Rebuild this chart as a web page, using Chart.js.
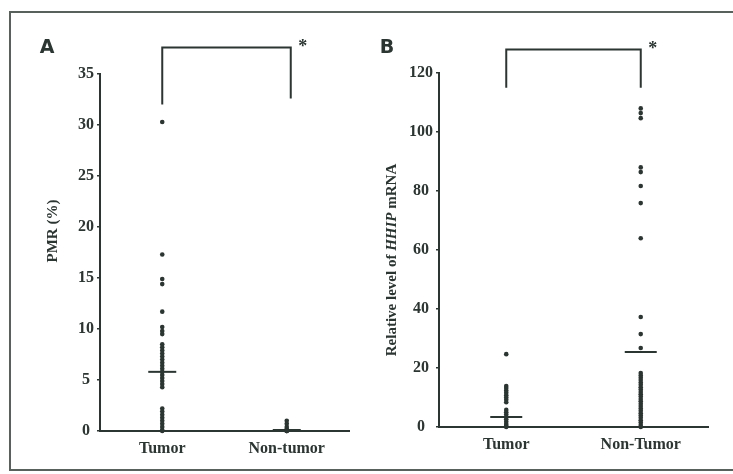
<!DOCTYPE html>
<html><head><meta charset="utf-8">
<script src="https://cdn.jsdelivr.net/npm/chart.js@4.4.1/dist/chart.umd.min.js"></script>
<style>
html,body{margin:0;padding:0;background:#fff;overflow:hidden;width:733px;height:474px}
#frame{position:absolute;left:9px;top:11px;width:724px;height:460px;border:2px solid #59615d;border-right:none;box-sizing:border-box}
#ca{position:absolute;left:0;top:0}
#cb{position:absolute;left:366px;top:0}
</style></head><body>
<div id="frame"></div>
<canvas id="ca" width="366" height="474"></canvas>
<canvas id="cb" width="367" height="474"></canvas>
<script>
// ---- data ----
const categoriesA = ['Tumor', 'Non-tumor'];
const categoriesB = ['Tumor', 'Non-Tumor'];
const pmrTumor = [30.3, 17.3, 14.9, 14.4, 11.7, 10.2, 9.8, 9.5, 8.5, 8.2, 7.9, 7.6, 7.3, 7.0, 6.7, 6.4, 6.1, 5.8, 5.5, 5.2, 4.9, 4.6, 4.3, 2.2, 1.9, 1.6, 1.3, 1.0, 0.7, 0.4, 0.1, 0];
const pmrNonTumor = [1.0, 0.7, 0.4, 0.2, 0.1, 0, 0, 0];
const pmrMeans = [5.8, 0.1];
const hhipTumor = [24.7, 13.9, 13.2, 12.4, 11.6, 10.8, 10.0, 9.2, 8.4, 5.8, 5.0, 4.2, 3.4, 2.6, 1.8, 1.0, 0.4, 0];
const hhipNonTumor = [108, 106.4, 104.7, 88, 86.4, 81.7, 75.9, 64, 37.3, 31.5, 26.8, 18.3, 17.5, 16.7, 15.9, 15.1, 14.3, 13.5, 12.7, 11.9, 11.1, 10.3, 9.5, 8.7, 7.9, 7.1, 6.3, 5.5, 4.7, 3.9, 3.1, 2.3, 1.5, 0.7, 0];
const hhipMeans = [3.4, 25.4];
const ticksA = [0, 5, 10, 15, 20, 25, 30, 35];
const ticksB = [0, 20, 40, 60, 80, 100, 120];

const INK = '#2b3531';
const SERIF = '"Liberation Serif", "DejaVu Serif", serif';

function pts(cat, vals) { return vals.map(v => ({x: cat, y: v})); }

function deco(cfg) {
  return {
    id: 'deco',
    afterDraw(chart) {
      const ctx = chart.ctx, xs = chart.scales.x, ys = chart.scales.y;
      ctx.save();
      ctx.fillStyle = INK;
      ctx.font = 'bold 19px "DejaVu Sans", sans-serif';
      ctx.textAlign = 'center'; ctx.textBaseline = 'middle';
      ctx.fillText(cfg.letter, cfg.letterX, 48);
      const x1 = xs.getPixelForValue(0), x2 = xs.getPixelForValue(1) + cfg.rightShift;
      const yTop = ys.getPixelForValue(cfg.bracketTop);
      ctx.strokeStyle = INK; ctx.lineWidth = 2;
      ctx.beginPath();
      ctx.moveTo(x1, ys.getPixelForValue(cfg.leftLow));
      ctx.lineTo(x1, yTop); ctx.lineTo(x2, yTop);
      ctx.lineTo(x2, ys.getPixelForValue(cfg.rightLow));
      ctx.stroke();
      ctx.font = 'bold 18px ' + SERIF;
      ctx.fillText('*', x2 + 12, yTop);
      ctx.translate(cfg.titleX, cfg.titleY);
      ctx.rotate(-Math.PI / 2);
      ctx.textAlign = 'left'; ctx.textBaseline = 'middle';
      const parts = cfg.title;
      let total = 0;
      parts.forEach(p => { ctx.font = p.f + ' 15px ' + SERIF; total += ctx.measureText(p.t).width; });
      let x = -total / 2;
      parts.forEach(p => { ctx.font = p.f + ' 15px ' + SERIF; ctx.fillText(p.t, x, 0); x += ctx.measureText(p.t).width; });
      ctx.restore();
    }
  };
}

function makeChart(id, cats, a, b, means, tks, max, yW, xH, pad, meanR, cfg) {
  return new Chart(document.getElementById(id), {
    type: 'scatter',
    data: {
      labels: cats,
      datasets: [
        {data: pts(cats[0], a), pointRadius: 2.3, pointBackgroundColor: INK, pointBorderWidth: 0, clip: false},
        {data: pts(cats[1], b), pointRadius: 2.3, pointBackgroundColor: INK, pointBorderWidth: 0, clip: false},
        {data: means.map((m, i) => ({x: cats[i], y: m})), pointStyle: 'line', pointRadius: meanR,
         pointBorderColor: INK, pointBorderWidth: 2, clip: false}
      ]
    },
    options: {
      responsive: false, animation: false, devicePixelRatio: 1,
      layout: {padding: pad},
      plugins: {legend: {display: false}, tooltip: {enabled: false}},
      scales: {
        x: {
          type: 'category', labels: cats, offset: true,
          grid: {display: true, drawOnChartArea: false, drawTicks: false},
          border: {display: true, color: INK, width: 2},
          ticks: {color: INK, padding: 8, font: {family: SERIF, size: 16, weight: 'bold'}},
          afterFit: s => { s.height = xH; }
        },
        y: {
          type: 'linear', min: 0, max: max,
          afterBuildTicks: s => { s.ticks = tks.map(v => ({value: v})); },
          grid: {display: true, drawOnChartArea: false, drawTicks: true, tickLength: 3, color: INK, lineWidth: 1.5},
          border: {display: true, color: INK, width: 2},
          ticks: {color: INK, padding: 3, crossAlign: 'center', font: {family: SERIF, size: 16, weight: 'bold'}},
          afterFit: s => { s.width = yW; }
        }
      }
    },
    plugins: [deco(cfg)]
  });
}

makeChart('ca', categoriesA, pmrTumor, pmrNonTumor, pmrMeans, ticksA, 35, 100, 43,
  {top: 74, right: 17, left: 0, bottom: 0}, 14,
  {letter: 'A', letterX: 47, bracketTop: 37.6, leftLow: 32, rightLow: 32.6, rightShift: 4,
   titleX: 53, titleY: 231, title: [{t: 'PMR (%)', f: 'bold'}]});

makeChart('cb', categoriesB, hhipTumor, hhipNonTumor, hhipMeans, ticksB, 120, 73, 47,
  {top: 73, right: 25, left: 0, bottom: 0}, 16,
  {letter: 'B', letterX: 21, bracketTop: 128, leftLow: 115, rightLow: 115, rightShift: 0,
   titleX: 26, titleY: 260, title: [{t: 'Relative level of ', f: 'bold'}, {t: 'HHIP', f: 'italic bold'}, {t: ' mRNA', f: 'bold'}]});
</script>
</body></html>
